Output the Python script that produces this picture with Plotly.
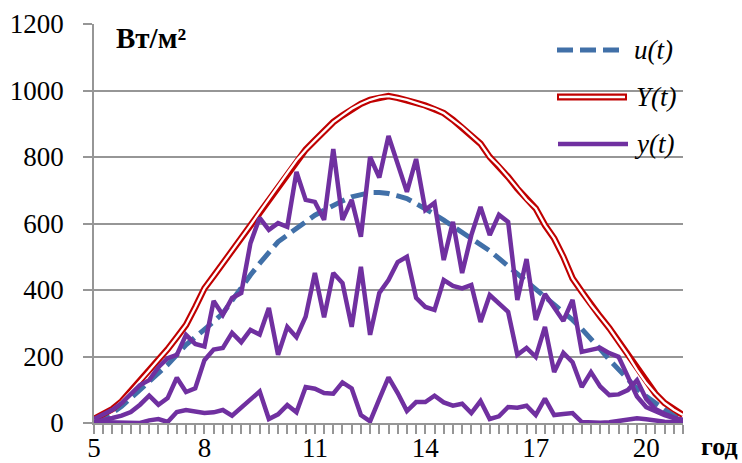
import plotly.graph_objects as go

# time of day, hours (15-minute steps)
hours = [5.0, 5.25, 5.5, 5.75, 6.0, 6.25, 6.5, 6.75, 7.0, 7.25, 7.5, 7.75,
         8.0, 8.25, 8.5, 8.75, 9.0, 9.25, 9.5, 9.75, 10.0, 10.25, 10.5, 10.75,
         11.0, 11.25, 11.5, 11.75, 12.0, 12.25, 12.5, 12.75, 13.0, 13.25, 13.5, 13.75,
         14.0, 14.25, 14.5, 14.75, 15.0, 15.25, 15.5, 15.75, 16.0, 16.25, 16.5, 16.75,
         17.0, 17.25, 17.5, 17.75, 18.0, 18.25, 18.5, 18.75, 19.0, 19.25, 19.5, 19.75,
         20.0, 20.25, 20.5, 20.75, 21.0]

u_t = [10, 18, 30, 50, 75, 100, 125, 150, 175, 205, 235, 258, 280, 305, 330, 370,
       410, 445, 480, 515, 545, 565, 585, 605, 625, 640, 655, 668, 680, 688, 693, 693,
       690, 683, 675, 660, 645, 628, 610, 592, 575, 558, 540, 518, 495, 472, 450, 428,
       405, 380, 355, 332, 310, 283, 255, 222, 190, 160, 130, 103, 80, 58, 40, 22, 10]

Y_t = [12, 25, 42, 65, 95, 125, 158, 190, 222, 258, 295, 348, 405, 442, 480, 518,
       555, 595, 635, 675, 715, 752, 790, 822, 850, 878, 905, 925, 945, 960, 972, 980,
       983, 978, 972, 963, 955, 945, 932, 912, 890, 865, 840, 800, 772, 740, 705, 672,
       645, 595, 555, 500, 435, 395, 355, 320, 285, 245, 205, 160, 120, 88, 60, 40, 24]

y_high = [12, 25, 40, 60, 88, 114, 129, 168, 195, 205, 265, 238, 230, 367, 325, 376,
          391, 541, 617, 581, 601, 590, 755, 671, 665, 611, 824, 611, 671, 560, 800, 738,
          863, 776, 695, 794, 641, 662, 490, 605, 451, 565, 650, 565, 626, 605, 370, 493,
          310, 388, 345, 307, 370, 214, 220, 226, 210, 199, 140, 80, 48, 35, 24, 15, 10]

y_mid = [3, 8, 15, 22, 33, 55, 82, 55, 75, 136, 93, 104, 189, 221, 226, 271,
         243, 280, 266, 346, 205, 289, 258, 320, 451, 318, 451, 421, 289, 470, 265, 391,
         430, 484, 500, 376, 349, 340, 430, 412, 405, 415, 304, 385, 360, 334, 205, 226,
         199, 289, 153, 211, 183, 108, 153, 110, 84, 86, 99, 129, 72, 42, 28, 16, 8]

y_low = [3, 2, 2, 0, 0, 0, 8, 12, 3, 33, 39, 33, 30, 32, 39, 22,
         45, 70, 95, 12, 26, 54, 32, 108, 103, 90, 88, 122, 104, 24, 5, 72,
         137, 90, 36, 63, 63, 82, 62, 52, 58, 30, 66, 12, 20, 48, 46, 52,
         24, 73, 24, 27, 30, 3, 1, 1, 2, 5, 11, 14, 11, 7, 4, 3, 2]

x_tick_vals = [5, 8, 11, 14, 17, 20]
y_tick_vals = [0, 200, 400, 600, 800, 1000, 1200]

BLUE = "#4170A8"
RED = "#C00000"
PURPLE = "#7030A0"
GRID = "#969696"
FONT = "Liberation Serif, Times New Roman, serif"

fig = go.Figure()
fig.add_trace(go.Scatter(x=hours, y=u_t, mode="lines", showlegend=False,
                         line=dict(color=BLUE, width=5, dash="16px,7px")))
fig.add_trace(go.Scatter(x=hours, y=Y_t, mode="lines", showlegend=False,
                         line=dict(color=RED, width=6.5)))
fig.add_trace(go.Scatter(x=hours, y=Y_t, mode="lines", showlegend=False,
                         line=dict(color="white", width=2.3)))
for ys in (y_low, y_mid, y_high):
    fig.add_trace(go.Scatter(x=hours, y=ys, mode="lines", showlegend=False,
                             line=dict(color=PURPLE, width=4.5)))

L, R, T, B = 94, 59, 24, 40
PW, PH = 742 - L - R, 463 - T - B


def px(xp):
    return (xp - L) / PW


def py(yp):
    return (463 - B - yp) / PH


shapes = [
    dict(type="line", xref="paper", yref="paper", x0=px(557), x1=px(621), y0=py(50), y1=py(50),
         line=dict(color=BLUE, width=5, dash="16px,7px")),
    dict(type="line", xref="paper", yref="paper", x0=px(557), x1=px(627), y0=py(97), y1=py(97),
         line=dict(color=RED, width=7)),
    dict(type="line", xref="paper", yref="paper", x0=px(559), x1=px(625), y0=py(97), y1=py(97),
         line=dict(color="white", width=2.5)),
    dict(type="line", xref="paper", yref="paper", x0=px(558), x1=px(628), y0=py(144), y1=py(144),
         line=dict(color=PURPLE, width=4.5)),
]

annotations = [
    dict(text="<i>u(t)</i>", x=px(632), y=py(50), xref="paper", yref="paper",
         xanchor="left", yanchor="middle", showarrow=False,
         font=dict(family=FONT, size=27, color="black")),
    dict(text="<i>Y(t)</i>", x=px(634), y=py(97), xref="paper", yref="paper",
         xanchor="left", yanchor="middle", showarrow=False,
         font=dict(family=FONT, size=27, color="black")),
    dict(text="<i>y(t)</i>", x=px(632), y=py(144), xref="paper", yref="paper",
         xanchor="left", yanchor="middle", showarrow=False,
         font=dict(family=FONT, size=27, color="black")),
    dict(text="<b>Вт/м²</b>", x=px(151), y=py(38), xref="paper", yref="paper",
         xanchor="center", yanchor="middle", showarrow=False, bgcolor="white", borderpad=5,
         font=dict(family=FONT, size=29, color="black")),
    dict(text="<b>год</b>", x=px(719), y=py(446), xref="paper", yref="paper",
         xanchor="center", yanchor="middle", showarrow=False,
         font=dict(family=FONT, size=26, color="black")),
]

fig.update_layout(
    width=742, height=463,
    margin=dict(l=L, r=R, t=T, b=B),
    paper_bgcolor="white", plot_bgcolor="white",
    showlegend=False,
    shapes=shapes, annotations=annotations,
    xaxis=dict(range=[5, 21], tickvals=x_tick_vals, ticktext=[str(v) for v in x_tick_vals],
               automargin=False,
               showgrid=False, zeroline=False, showline=True, linecolor=GRID, linewidth=1.5,
               ticks="outside", ticklen=9, tickcolor=GRID, tickwidth=1.5,
               ticklabelstandoff=-9,
               minor=dict(dtick=0.25, tick0=5, ticks="outside", ticklen=9,
                          tickcolor=GRID, tickwidth=1.5, showgrid=False),
               tickfont=dict(family=FONT, size=27, color="black")),
    yaxis=dict(range=[0, 1200], tickvals=y_tick_vals, showgrid=True, gridcolor=GRID,
               automargin=False,
               gridwidth=1.5, zeroline=False, showline=True, linecolor=GRID, linewidth=1.5,
               ticks="outside", ticklen=9, tickcolor=GRID, tickwidth=1.5,
               ticklabelstandoff=14,
               tickfont=dict(family=FONT, size=27, color="black")),
)

fig.write_html("out.html", config={"displayModeBar": False},
               post_script="document.body.style.margin='0';document.body.style.overflow='hidden';")
